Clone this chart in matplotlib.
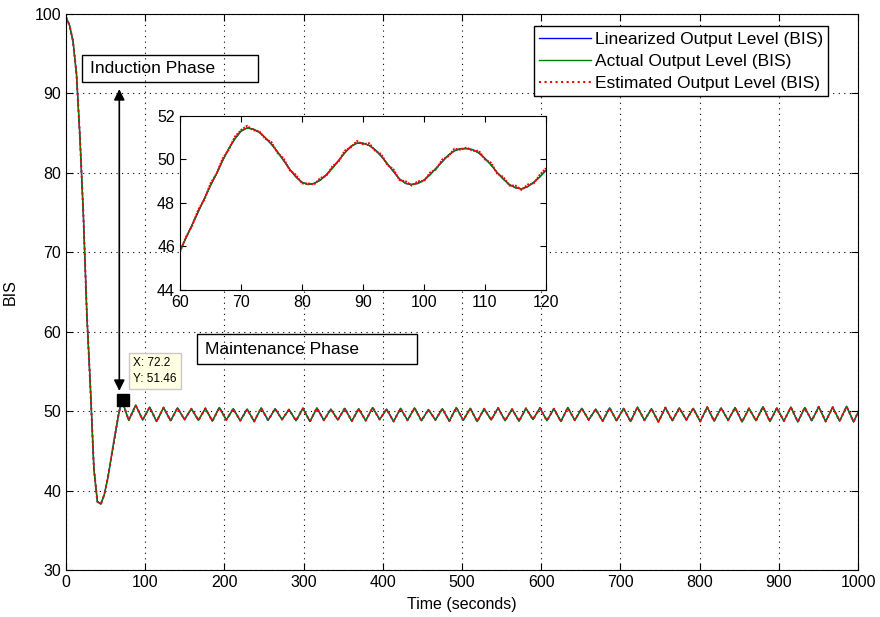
import numpy as np
import matplotlib
matplotlib.use("Agg")
import matplotlib.pyplot as plt
from matplotlib.patches import Rectangle

plt.rcParams['font.family'] = ['Liberation Sans', 'DejaVu Sans']

# induction phase, sampled every 4.4 s from t = 0
dt_ind = 4.4
bis_ind = [99.6, 98.6, 96.6, 92.5, 84.5, 74.5, 62.0, 53.0, 42.8, 38.6,
           38.3, 39.5, 41.6, 44.2, 46.8, 49.4, 51.4]

# maintenance phase: successive troughs / peaks, every 8.8 s from t = 79.2
t0_maint = 79.2
dt_maint = 8.8
bis_maint = [48.85, 50.75, 48.90, 50.50, 48.70, 50.45, 48.80, 50.40, 48.95, 50.30,
             48.85, 50.35, 48.75, 50.45, 48.90, 50.30, 48.80, 50.25, 48.70, 50.40,
             48.85, 50.30, 48.95, 50.20, 48.80, 50.35, 48.70, 50.40, 48.85, 50.25,
             48.90, 50.35, 48.75, 50.30, 48.80, 50.45, 48.95, 50.25, 48.70, 50.35,
             48.85, 50.40, 48.80, 50.20, 48.90, 50.30, 48.75, 50.45, 48.85, 50.35,
             48.70, 50.30, 48.90, 50.40, 48.80, 50.25, 48.75, 50.35, 48.95, 50.40,
             48.80, 50.30, 48.70, 50.45, 48.85, 50.35, 48.90, 50.25, 48.75, 50.40,
             48.80, 50.35, 48.70, 50.50, 48.85, 50.30, 48.65, 50.45, 48.80, 50.40,
             48.90, 50.35, 48.70, 50.50, 48.75, 50.40, 48.85, 50.45, 48.65, 50.35,
             48.80, 50.55, 48.70, 50.40, 48.75, 50.50, 48.65, 50.45, 48.80, 50.55,
             48.70, 50.50, 48.75, 50.60, 48.65, 50.50]

# zoomed window 60..120 s, 1 s samples
t_zoom = np.arange(60, 121)
bis_zoom = [45.80, 46.40, 47.00, 47.60, 48.20, 48.80, 49.35, 49.95, 50.50, 50.95,
            51.30, 51.45, 51.40, 51.25, 51.00, 50.70, 50.35, 49.95, 49.55, 49.20,
            48.95, 48.85, 48.90, 49.05, 49.30, 49.60, 49.95, 50.30, 50.60, 50.75,
            50.75, 50.65, 50.45, 50.15, 49.80, 49.45, 49.10, 48.90, 48.85, 48.90,
            49.05, 49.30, 49.60, 49.90, 50.20, 50.40, 50.50, 50.50, 50.45, 50.30,
            50.05, 49.75, 49.40, 49.10, 48.85, 48.70, 48.65, 48.75, 48.95, 49.20,
            49.50]
bis_zoom_est = [45.75, 46.45, 46.95, 47.70, 48.15, 48.90, 49.35, 50.05, 50.45, 51.05,
                51.35, 51.55, 51.35, 51.30, 50.95, 50.80, 50.30, 50.05, 49.50, 49.30,
                48.90, 48.90, 48.85, 49.15, 49.25, 49.70, 49.90, 50.40, 50.55, 50.85,
                50.70, 50.75, 50.40, 50.25, 49.75, 49.55, 49.05, 49.00, 48.80, 49.00,
                49.00, 49.40, 49.55, 50.00, 50.15, 50.50, 50.45, 50.55, 50.40, 50.40,
                50.00, 49.85, 49.35, 49.20, 48.80, 48.80, 48.60, 48.85, 48.90, 49.30,
                49.60]

tip_x, tip_y = 72.2, 51.46

t_main = np.concatenate([dt_ind * np.arange(len(bis_ind)),
                         t0_maint + dt_maint * np.arange(len(bis_maint))])
bis_main = np.array(bis_ind + bis_maint)

fig = plt.figure(figsize=(8.8, 6.17), dpi=100)
ax = fig.add_axes([0.075, 0.0762, 0.9, 0.901])

ax.plot(t_main, bis_main, color='#0000ff', lw=1, label='Linearized Output Level (BIS)')
ax.plot(t_main, bis_main, color='#008000', lw=1, label='Actual Output Level (BIS)')
ax.plot(t_main, bis_main, color='#ff0000', lw=1.5, ls=':', label='Estimated Output Level (BIS)')

ax.set_xlim(0, 1000)
ax.set_ylim(30, 100)
ax.set_xticks(range(0, 1001, 100))
ax.set_yticks(range(30, 101, 10))
ax.tick_params(direction='in', top=True, right=True, length=5, labelsize=11.5)
ax.grid(True, color='k', ls=(0, (1, 4)), lw=0.8)
ax.set_xlabel('Time (seconds)', fontsize=11.5, labelpad=5)
ax.set_ylabel('BIS', fontsize=11.5, labelpad=12)

leg = ax.legend(loc='upper right', bbox_to_anchor=(0.962, 0.978), borderaxespad=0,
                fontsize=12.5, fancybox=False, edgecolor='k', framealpha=1,
                handlelength=3.0, handletextpad=0.2, labelspacing=0.4,
                borderpad=0.3)
leg.get_frame().set_linewidth(1)

# phase labels
ax.add_patch(Rectangle((20.2, 91.4), 222, 3.4, fill=False, ec='k', lw=1, zorder=5))
ax.text(30, 93.1, 'Induction Phase', fontsize=12.5, va='center', zorder=5)
ax.add_patch(Rectangle((165, 55.9), 278, 3.8, fill=False, ec='k', lw=1, zorder=5))
ax.text(175, 57.8, 'Maintenance Phase', fontsize=12.5, va='center', zorder=5)

ax.annotate('', xy=(67.3, 90.9), xytext=(67.3, 52.2),
            arrowprops=dict(arrowstyle='<|-|>', color='k', lw=1.2, mutation_scale=16),
            zorder=6)
ax.plot(tip_x, tip_y, 's', color='k', ms=8, zorder=7)
ax.text(84.5, 56.8, 'X: %.1f\nY: %.2f' % (tip_x, tip_y), fontsize=8.5, va='top',
        linespacing=1.4, zorder=7,
        bbox=dict(boxstyle='square,pad=0.35', fc='#ffffe1', ec='#c8c8c8'))

# inset
ax2 = fig.add_axes([0.2045, 0.530, 0.4159, 0.282])
ax2.plot(t_zoom, bis_zoom, color='#0000ff', lw=1)
ax2.plot(t_zoom, bis_zoom, color='#008000', lw=1)
ax2.plot(t_zoom, bis_zoom_est, color='#ff0000', lw=1.4, ls=(0, (1, 0.6)))
ax2.set_xlim(60, 120)
ax2.set_ylim(44, 52)
ax2.set_xticks(range(60, 121, 10))
ax2.set_yticks(range(44, 53, 2))
ax2.tick_params(direction='in', top=True, right=True, length=4, labelsize=11.5)

fig.savefig('out.png', dpi=100)
